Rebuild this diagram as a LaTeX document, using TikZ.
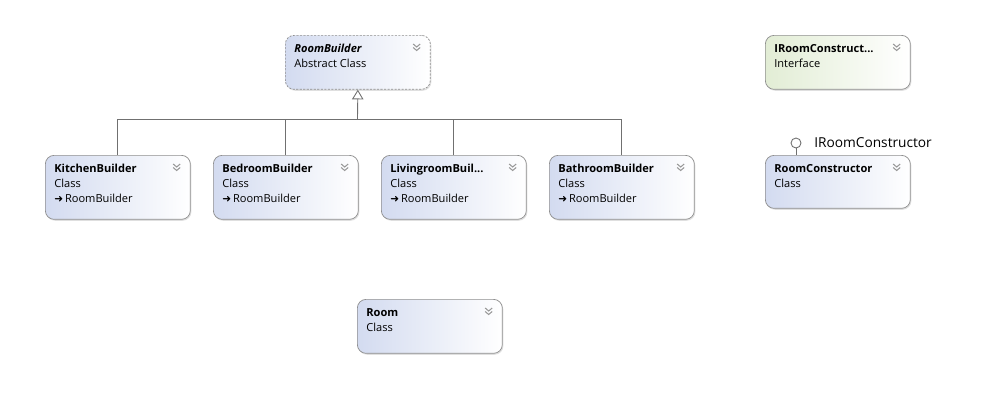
\documentclass[tikz,border=0pt]{standalone}
\usepackage{fontspec}
\setmainfont{Open Sans}
\newfontfamily\arrowfont{DejaVu Sans}
\usepackage{tikz}
\usetikzlibrary{positioning, arrows.meta, shadows, calc}
\definecolor{boxblue}{HTML}{D3DBF0}
\definecolor{boxgreen}{HTML}{E2EDD5}
\definecolor{boxline}{HTML}{8E8E8E}
\definecolor{linkline}{HTML}{707070}
\tikzstyle{classbox} = [rectangle, rounded corners=5pt, minimum width=2.9cm, draw=boxline, left color=boxblue, right color=white, drop shadow={shadow xshift=0.6pt, shadow yshift=-0.8pt, opacity=0.25}]
\tikzstyle{abstractbox} = [classbox, dash pattern=on 1.2pt off 0.8pt]
\tikzstyle{interfacebox} = [classbox, left color=boxgreen]
\tikzstyle{boxtext} = [inner sep=0pt, align=left, font=\fontsize{6.3}{8.5}\selectfont]
\tikzstyle{chevron} = [draw=gray!80, line width=0.6pt]
\tikzstyle{inherit} = [draw=linkline, line width=0.5pt]
\newcommand{\extends}{{\arrowfont\fontsize{6}{6}\selectfont ➜}\,}
% box with title, text and chevron
\newcommand{\classnode}[6][classbox]{%
  \node[#1, minimum height=#4, anchor=north west] (#2) at #3 {};
  \node[boxtext, anchor=north west] (#2-text) at ($(#2.north west)+(0.18cm,-0.18cm)$) {#5\\#6};
  \draw[chevron] ($(#2.north east)+(-0.35cm,-0.18cm)$) -- ++(0.07cm,-0.06cm) -- ++(0.07cm,0.06cm);
  \draw[chevron] ($(#2.north east)+(-0.35cm,-0.25cm)$) -- ++(0.07cm,-0.06cm) -- ++(0.07cm,0.06cm);
}

\begin{document}
\begin{tikzpicture}[x=0.02cm, y=-0.02cm]
            \useasboundingbox (0,0) rectangle (1001,400);

            \classnode[abstractbox]{roombuilder}{(285,35)}{1.08cm}{\textbf{\textit{RoomBuilder}}}{Abstract Class}
            \classnode{kitchen}{(45,155)}{1.28cm}{\textbf{KitchenBuilder}}{Class\\\extends RoomBuilder}
            \classnode{bedroom}{(213,155)}{1.28cm}{\textbf{BedroomBuilder}}{Class\\\extends RoomBuilder}
            \classnode{livingroom}{(381,155)}{1.28cm}{\textbf{LivingroomBuil...}}{Class\\\extends RoomBuilder}
            \classnode{bathroom}{(549,155)}{1.28cm}{\textbf{BathroomBuilder}}{Class\\\extends RoomBuilder}
            \classnode[interfacebox]{iroomconstructor}{(765,35)}{1.08cm}{\textbf{IRoomConstruct...}}{Interface}
            \classnode{roomconstructor}{(765,155)}{1.06cm}{\textbf{RoomConstructor}}{Class}
            \classnode{room}{(357,299)}{1.08cm}{\textbf{Room}}{Class}

            % inheritance
            \coordinate (fork) at (357.5,119);
            \draw [inherit] (kitchen.north) |- (fork);
            \draw [inherit] (bathroom.north) |- (fork);
            \draw [inherit] (bedroom.north) -- (bedroom.north |- fork);
            \draw [inherit] (livingroom.north) -- (livingroom.north |- fork);
            \draw [inherit, -{Triangle[open, length=5.5pt, width=6.5pt]}] (fork) -- (roombuilder.south);

            % lollipop
            \node (lolli) [circle, draw=linkline, line width=0.5pt, fill=white, minimum size=0.2cm, inner sep=0pt] at (796,143) {};
            \draw [inherit] (lolli.south) -- (lolli.south |- roomconstructor.north);
            \node (lolli-label) [right=0.25cm of lolli, inner sep=0pt, font=\fontsize{7.8}{9}\selectfont] {IRoomConstructor};

\end{tikzpicture}
\end{document}
